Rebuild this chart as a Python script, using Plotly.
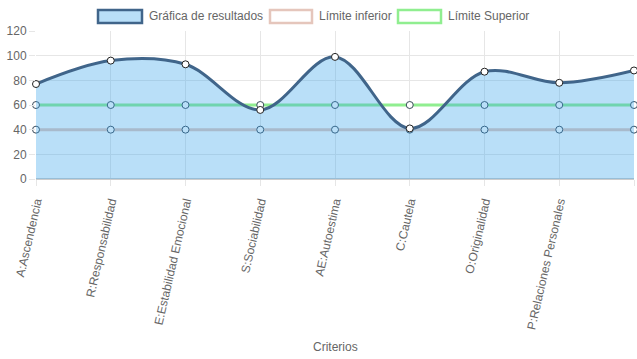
import plotly.graph_objects as go

categories = ["A:Ascendencia", "R:Responsabilidad", "E:Estabilidad Emocional", "S:Sociabilidad",
              "AE:Autoestima", "C:Cautela", "O:Originalidad", "P:Relaciones Personales", "V:Vigor"]
resultados = [77, 96, 93, 56, 99, 41, 87, 78, 88]
limite_inferior = [40, 40, 40, 40, 40, 40, 40, 40, 40]
limite_superior = [60, 60, 60, 60, 60, 60, 60, 60, 60]
series_names = ["Gráfica de resultados", "Límite inferior", "Límite Superior"]
y_ticks = [0, 20, 40, 60, 80, 100, 120]

FONT = "Liberation Sans, Arial, Helvetica, sans-serif"
C_RES_LINE = "#40658a"
C_RES_FILL = "rgba(54,162,235,0.35)"
C_INF = "rgb(229,198,188)"
C_SUP = "rgb(144,238,144)"

fig = go.Figure()
x_idx = list(range(len(categories)))

fig.add_trace(go.Scatter(
    x=x_idx, y=limite_superior, mode="lines+markers", name=series_names[2],
    line=dict(color=C_SUP, width=3),
    marker=dict(size=7, color="white", line=dict(color="#3a4a5a", width=1)),
    cliponaxis=False, showlegend=False))
fig.add_trace(go.Scatter(
    x=x_idx, y=limite_inferior, mode="lines+markers", name=series_names[1],
    line=dict(color=C_INF, width=3),
    marker=dict(size=7, color="white", line=dict(color="#3a4a5a", width=1)),
    cliponaxis=False, showlegend=False))
fig.add_trace(go.Scatter(
    x=x_idx, y=resultados, mode="lines+markers", name=series_names[0],
    line=dict(color=C_RES_LINE, width=3, shape="spline", smoothing=1.0),
    fill="tozeroy", fillcolor=C_RES_FILL,
    marker=dict(size=7, color="white", line=dict(color="#222", width=1)),
    cliponaxis=False, showlegend=False))

L, R, T, B = 36, 3, 31, 180
W, H = 637, 359
pw, ph = W - L - R, H - T - B

def px(xp):
    return (xp - L) / pw

def py(yp):
    return (H - B - yp) / ph

legend_items = [
    (98, 142, 147, C_RES_FILL, C_RES_LINE, series_names[0]),
    (270, 312, 317, "white", C_INF, series_names[1]),
    (398, 441, 446, "white", C_SUP, series_names[2]),
]
for x0, x1, xt, fc, lc, name in legend_items:
    fig.add_shape(type="rect", xref="paper", yref="paper",
                  x0=px(x0), x1=px(x1), y0=py(23), y1=py(10),
                  fillcolor=fc, line=dict(color=lc, width=2.5), layer="above")
    fig.add_annotation(xref="paper", yref="paper", x=px(xt), y=py(16.5),
                       text=name, showarrow=False, xanchor="left", yanchor="middle",
                       font=dict(family=FONT, size=12, color="#666"))

fig.update_layout(
    width=W, height=H,
    margin=dict(l=L, r=R, t=T, b=B, autoexpand=False),
    paper_bgcolor="white", plot_bgcolor="white",
    font=dict(family=FONT, size=12, color="#666"),
    showlegend=False,
)
fig.update_xaxes(
    tickmode="array", tickvals=x_idx, ticktext=categories,
    range=[0, len(categories) - 1], tickangle=-77,
    showgrid=True, gridcolor="#e6e6e6", gridwidth=1,
    ticks="outside", ticklen=6, tickcolor="#e6e6e6",
    ticklabelstandoff=4,
    showline=False, zeroline=False, automargin=False,
    tickfont=dict(family=FONT, size=12, color="#666"),
    title=None,
)
fig.update_yaxes(
    range=[0, 120], tickvals=y_ticks,
    showgrid=True, gridcolor="#e6e6e6", gridwidth=1,
    zeroline=True, zerolinecolor="#cccccc", zerolinewidth=2,
    ticks="outside", ticklen=6, tickcolor="#e6e6e6",
    showline=False, automargin=False,
    tickfont=dict(family=FONT, size=12, color="#666"),
)
fig.add_annotation(xref="paper", yref="paper", x=0.5, y=py(347), text="Criterios",
                   showarrow=False, yanchor="middle",
                   font=dict(family=FONT, size=12, color="#666"))

fig.write_html("out.html", config={"displayModeBar": False},
               post_script="document.body.style.margin='0';document.body.style.overflow='hidden';")
